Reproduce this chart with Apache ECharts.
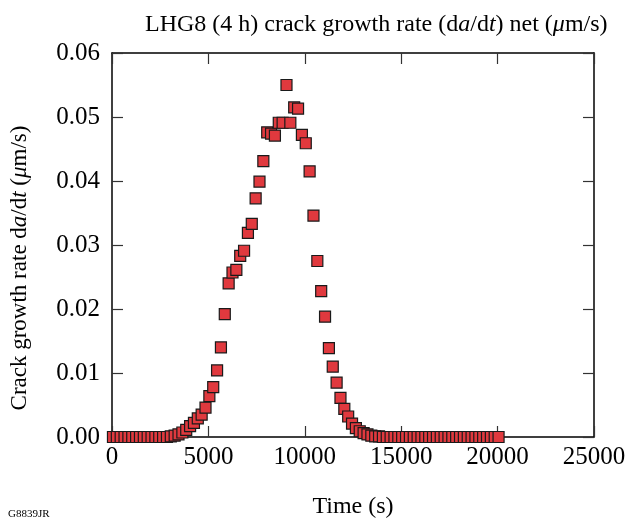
<!DOCTYPE html>
<html>
<head>
<meta charset="utf-8">
<script src="https://cdn.jsdelivr.net/npm/echarts@6/dist/echarts.min.js"></script>
<style>
html,body{margin:0;padding:0;background:#fff;}
#c{width:626px;height:521px;}
</style>
</head>
<body>
<div id="c"></div>
<script>
var times = [50,250,450,650,850,1050,1250,1450,1650,1850,2050,2250,2450,2650,2850,3050,3250,3450,3650,3850,4050,4250,4450,4650,4850,5050,5250,5450,5650,5850,6050,6250,6450,6650,6850,7050,7250,7450,7650,7850,8050,8250,8450,8650,8850,9050,9250,9450,9650,9850,10050,10250,10450,10650,10850,11050,11250,11450,11650,11850,12050,12250,12450,12650,12850,13050,13250,13450,13650,13850,14050,14250,14450,14650,14850,15050,15250,15450,15650,15850,16050,16250,16450,16650,16850,17050,17250,17450,17650,17850,18050,18250,18450,18650,18850,19050,19250,19450,19650,19850,20050];
var rates = [0,0,0,0,0,0,0,0,0,0,0,0,0,0,0,
0.0001,0.0002,0.0004,0.0007,0.0011,0.0017,0.0022,0.0029,0.0035,0.0046,
0.0064,0.0078,0.0104,0.0140,0.0192,0.0240,0.0257,0.0261,0.0283,0.0291,
0.0319,0.0333,0.0373,0.0399,0.0431,0.0476,0.0474,0.0471,0.0491,0.0491,
0.0550,0.0491,0.0515,0.0513,0.0472,0.0459,0.0415,0.0346,0.0275,0.0228,
0.0188,0.0139,0.0110,0.0085,0.0061,0.0044,0.0032,0.0021,0.0014,0.0009,
0.0006,0.0004,0.0002,0.0001,0.0001,
0,0,0,0,0,0,0,0,0,0,0,0,0,0,0,0,0,0,0,0,0,0,0,0,0,0,0,0,0,0,0];
var xTicks = [0,5000,10000,15000,20000,25000];
var yTicks = [0.00,0.01,0.02,0.03,0.04,0.05,0.06];

var FONT = "'Liberation Serif','Times New Roman',serif";
var points = times.map(function(t,i){return [t, rates[i]];});

var axisCommon = {
  axisLine:{show:true,onZero:false,lineStyle:{color:'#000',width:1.5}},
  axisTick:{show:true,inside:true,length:11,lineStyle:{color:'#333',width:1.2}},
  splitLine:{show:false}
};
function ext(a,b){var o=JSON.parse(JSON.stringify(a));for(var k in b)o[k]=b[k];return o;}

var chart = echarts.init(document.getElementById('c'), null, {renderer:'canvas'});
chart.setOption({
  animation:false,
  backgroundColor:'#fff',
  title:{
    text:'LHG8 (4 h) crack growth rate (d{i|a}/d{i|t}) net ({i|μ}m/s)',
    left:140, top:8,
    textStyle:{fontFamily:FONT,fontSize:24,fontWeight:'normal',color:'#000',
      rich:{i:{fontFamily:FONT,fontSize:24,fontStyle:'italic',color:'#000'}}}
  },
  grid:{left:112,right:32,top:53,bottom:84,containLabel:false,outerBoundsMode:'none'},
  xAxis:[
    ext(axisCommon,{type:'value',position:'bottom',min:xTicks[0],max:xTicks[xTicks.length-1],interval:5000,
      name:'Time (s)',nameLocation:'middle',nameGap:58,
      nameTextStyle:{fontFamily:FONT,fontSize:24,color:'#000'},
      axisLabel:{show:true,margin:8,fontFamily:FONT,fontSize:25,color:'#000',
        formatter:function(v){return String(v);}}}),
    ext(axisCommon,{type:'value',position:'top',min:xTicks[0],max:xTicks[xTicks.length-1],interval:5000,
      axisLabel:{show:false}})
  ],
  yAxis:[
    ext(axisCommon,{type:'value',position:'left',min:yTicks[0],max:yTicks[yTicks.length-1],interval:0.01,
      axisLabel:{show:true,margin:12,fontFamily:FONT,fontSize:25,color:'#000',
        formatter:function(v){return v.toFixed(2);}}}),
    ext(axisCommon,{type:'value',position:'right',min:yTicks[0],max:yTicks[yTicks.length-1],interval:0.01,
      axisLabel:{show:false}})
  ],
  graphic:[
    {type:'text',x:20,y:268,rotation:Math.PI/2,
     style:{text:'Crack growth rate d{i|a}/d{i|t} ({i|μ}m/s)',fontFamily:FONT,fontSize:23,fill:'#000',
       align:'center',verticalAlign:'middle',
       rich:{i:{fontFamily:FONT,fontSize:23,fontStyle:'italic',fill:'#000'}}}},
    {type:'text',left:8,top:509,style:{text:'G8839JR',fontFamily:FONT,fontSize:11,fill:'#000'}}
  ],
  series:[{
    type:'scatter',xAxisIndex:0,yAxisIndex:0,
    symbol:'rect',symbolSize:11,
    itemStyle:{color:'#e0393e',borderColor:'#1a1a1a',borderWidth:1.2,opacity:1},
    data:points
  }]
});
</script>
</body>
</html>
